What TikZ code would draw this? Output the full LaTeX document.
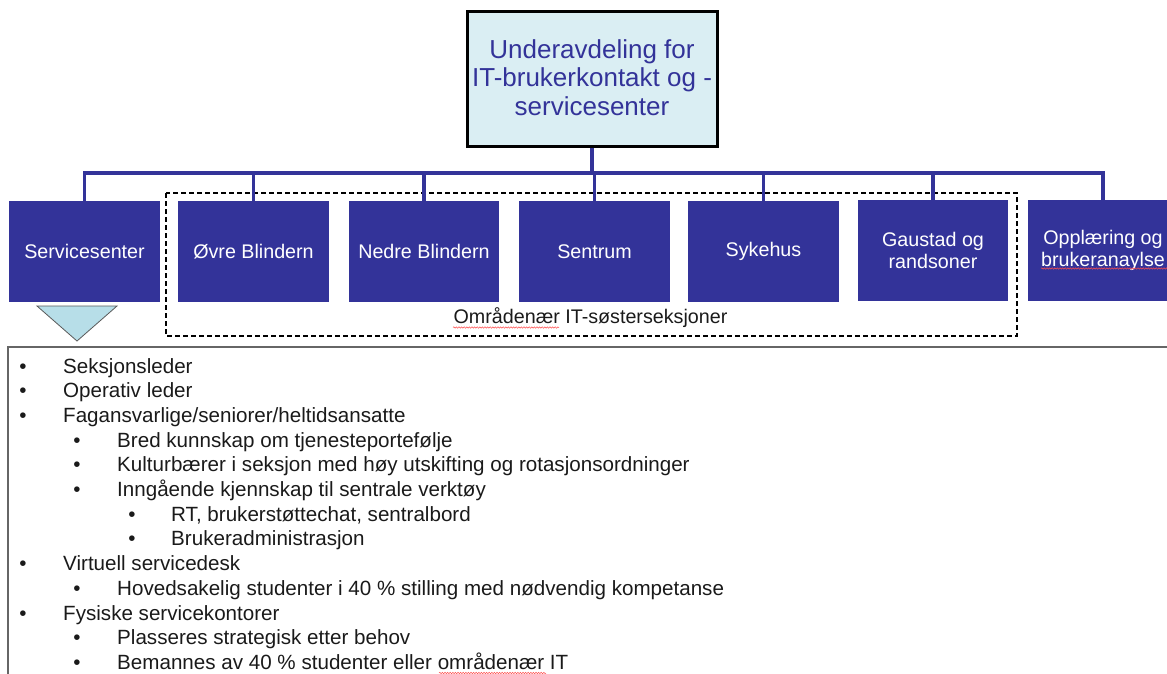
\documentclass[tikz,border=0pt]{standalone}
\usepackage{fontspec}
\setmainfont{Liberation Sans}
\usetikzlibrary{decorations.pathmorphing}
\definecolor{navy}{HTML}{333399}
\definecolor{lightcyan}{HTML}{DAEEF3}
\definecolor{tri}{HTML}{B7DEE8}
\definecolor{txt}{HTML}{1A1A1A}
\begin{document}
\begin{tikzpicture}[x=1pt,y=-1pt,
  unit/.style={fill=navy, draw=none, minimum width=150.5pt, minimum height=101pt,
    inner sep=0pt, text=white, font=\fontsize{19.7}{22.5}\selectfont, align=center},
  conn/.style={draw=navy, line width=3.4pt},
  bul/.style={anchor=base, inner sep=0pt, font=\fontsize{20.6}{24}\selectfont, text=txt},
  item/.style={anchor=base west, inner sep=0pt, font=\fontsize{20.6}{24}\selectfont, text=txt},
  squig/.style={draw=red!70, line width=0.5pt, decorate,
    decoration={snake, amplitude=0.7pt, segment length=2.6pt}},
]
\useasboundingbox (0,0) rectangle (1167,674);
\clip (0,0) rectangle (1167,674);

% top box
\node[draw=black, line width=3pt, fill=lightcyan, minimum width=250pt, minimum height=135pt,
  inner sep=0pt, text=navy, font=\fontsize{26}{28.8}\selectfont, align=center]
  (top) at (592,79.5) {Underavdeling for\\IT-brukerkontakt og -\\servicesenter\rule[-4pt]{0pt}{1pt}};

% dashed group
\draw[line width=1.2pt, dash pattern=on 5pt off 3pt] (166,193) rectangle (1017,336);
\node[anchor=base, inner sep=0pt, font=\fontsize{19.7}{23}\selectfont, text=txt]
  (lbl) at (590.5,323) {Områdenær IT-søsterseksjoner};

% units
\node[unit] (s1) at (84.5,251.5) {Servicesenter};
\node[unit] (s2) at (253.5,251.5) {Øvre Blindern};
\node[unit] (s3) at (424,251.5) {Nedre Blindern};
\node[unit] (s4) at (594.5,251.5) {Sentrum};
\node[unit] (s5) at (763.5,251.5) {Sykehus};
\node[unit] (s6) at (933,250.5) {Gaustad og\\randsoner};
\node[unit] (s7) at (1103,250.5) {Opplæring og\\brukeranaylse};

% connectors
\coordinate (bus) at (592,173);
\draw[conn] (top.south) -- (bus);
\foreach \n in {s1,s2,s3,s4,s5,s6,s7} {
  \draw[conn] (bus) -| (\n.north);
}

% triangle
\filldraw[fill=tri, draw=black!65, line width=0.8pt] (37,306) -- (117,306) -- (77,341) -- cycle;

% text box
\draw[draw=black!60, line width=2.2pt] (8,347) rectangle (1200,720);

% bullets
\node[bul] (b1) at (23,373) {•};    \node[item] (t1) at (63,373) {Seksjonsleder};
\node[bul] (b2) at (23,397.7) {•};  \node[item] (t2) at (63,397.7) {Operativ leder};
\node[bul] (b3) at (23,422.4) {•};  \node[item] (t3) at (63,422.4) {Fagansvarlige/seniorer/heltidsansatte};
\node[bul] (b4) at (77,447) {•};    \node[item] (t4) at (117,447) {Bred kunnskap om tjenesteportefølje};
\node[bul] (b5) at (77,471.8) {•};  \node[item] (t5) at (117,471.8) {Kulturbærer i seksjon med høy utskifting og rotasjonsordninger};
\node[bul] (b6) at (77,496.5) {•};  \node[item] (t6) at (117,496.5) {Inngående kjennskap til sentrale verktøy};
\node[bul] (b7) at (132,521.2) {•}; \node[item] (t7) at (171,521.2) {RT, brukerstøttechat, sentralbord};
\node[bul] (b8) at (132,545.9) {•}; \node[item] (t8) at (171,545.9) {Brukeradministrasjon};
\node[bul] (b9) at (23,570.6) {•};  \node[item] (t9) at (63,570.6) {Virtuell servicedesk};
\node[bul] (b10) at (77,595.3) {•}; \node[item] (t10) at (117,595.3) {Hovedsakelig studenter i 40 \% stilling med nødvendig kompetanse};
\node[bul] (b11) at (23,620) {•};   \node[item] (t11) at (63,620) {Fysiske servicekontorer};
\node[bul] (b12) at (77,644.7) {•}; \node[item] (t12) at (117,644.7) {Plasseres strategisk etter behov};
\node[bul] (b13) at (77,669.4) {•}; \node[item] (t13) at (117,669.4) {Bemannes av 40 \% studenter eller områdenær IT};

% spell-check squiggles
\draw[squig] (1041,268.5) -- (1170,268.5);
\draw[squig] (453,327.5) -- (559,327.5);
\draw[squig] (439,673) -- (546,673);
\end{tikzpicture}
\end{document}
